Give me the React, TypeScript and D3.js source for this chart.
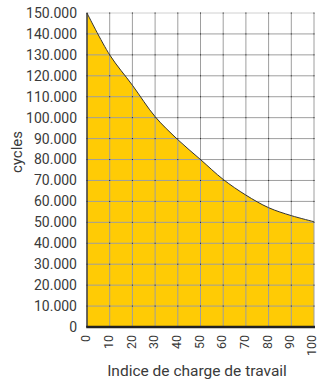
import React from "react";
import * as d3 from "d3";

// workload index (x) and cycles (y)
const workload = [0, 10, 20, 30, 40, 50, 60, 70, 80, 90, 100];
const cycles = [150000, 130000, 115500, 100500, 89500, 80000, 70500, 63000, 57000, 53200, 50300];
const yTicks = d3.range(0, 150001, 10000);
const xTicks = d3.range(0, 101, 10);

const W = 318;
const H = 381;
const margin = { top: 13, right: 4, bottom: 54, left: 87 };

const fmt = (v: number) => (v === 0 ? "0" : d3.format(",")(v).replace(/,/g, "."));

const App = () => {
  const x = d3.scaleLinear().domain([0, 100]).range([margin.left, W - margin.right]);
  const y = d3.scaleLinear().domain([0, 150000]).range([H - margin.bottom, margin.top]);

  const pts = workload.map((w, i) => ({ w, c: cycles[i] }));
  const areaPath = d3
    .area<{ w: number; c: number }>()
    .x(d => x(d.w))
    .y0(y(0))
    .y1(d => y(d.c))
    .curve(d3.curveCatmullRom)(pts);
  const linePath = d3
    .line<{ w: number; c: number }>()
    .x(d => x(d.w))
    .y(d => y(d.c))
    .curve(d3.curveCatmullRom)(pts);

  const font = "Roboto, 'DejaVu Sans', sans-serif";

  return (
    <svg
      width={W}
      height={H}
      style={{ position: "absolute", left: 0, top: 0, background: "#fff" }}
      fontFamily={font}
    >
      {/* area under curve */}
      <path d={areaPath ?? ""} fill="#ffcb05" />

      {/* grid */}
      {yTicks.map(t => (
        <line
          key={"gy" + t}
          x1={x(0)}
          x2={x(100)}
          y1={y(t)}
          y2={y(t)}
          stroke={t === 150000 ? "#d0d0d0" : "#9e9e9e"}
          strokeWidth={1}
        />
      ))}
      {xTicks.map(t => (
        <line
          key={"gx" + t}
          x1={x(t)}
          x2={x(t)}
          y1={y(150000)}
          y2={y(0)}
          stroke="#9e9e9e"
          strokeWidth={1}
        />
      ))}
      {/* little dots at crossings */}
      {xTicks.map(a =>
        yTicks.map(b => (
          <rect key={a + "-" + b} x={x(a) - 0.5} y={y(b) - 0.5} width={1} height={1} fill="#222" />
        ))
      )}

      {/* curve */}
      <path d={linePath ?? ""} fill="none" stroke="#333" strokeWidth={1} />

      {/* axes */}
      <line x1={x(0)} x2={x(0)} y1={y(150000)} y2={y(0)} stroke="#333" strokeWidth={1.3} />
      <line x1={x(0) - 0.75} x2={x(100) + 1} y1={y(0)} y2={y(0)} stroke="#222" strokeWidth={2.5} />

      {/* y labels */}
      {yTicks.map(t => (
        <text
          key={"ly" + t}
          x={77}
          y={y(t)}
          dy="0.35em"
          textAnchor="end"
          fontSize={14}
          fill="#3a3a3a"
        >
          {fmt(t)}
        </text>
      ))}

      {/* x labels (last one nudged so it stays inside the window) */}
      {xTicks.map(t => (
        <text
          key={"lx" + t}
          transform={`translate(${x(t) - (t === 100 ? 1.5 : 0)},${y(0) + 8}) rotate(-90)`}
          dy="0.25em"
          textAnchor="end"
          fontSize={12.5}
          fill="#3a3a3a"
        >
          {t}
        </text>
      ))}

      {/* axis titles */}
      <text x={197} y={376} textAnchor="middle" fontSize={15.5} fill="#3a3a3a">
        Indice de charge de travail
      </text>
      <text transform={`translate(17,152) rotate(-90)`} textAnchor="middle" dy="0.35em" fontSize={15} fill="#3a3a3a">
        cycles
      </text>
    </svg>
  );
};

export default App;
